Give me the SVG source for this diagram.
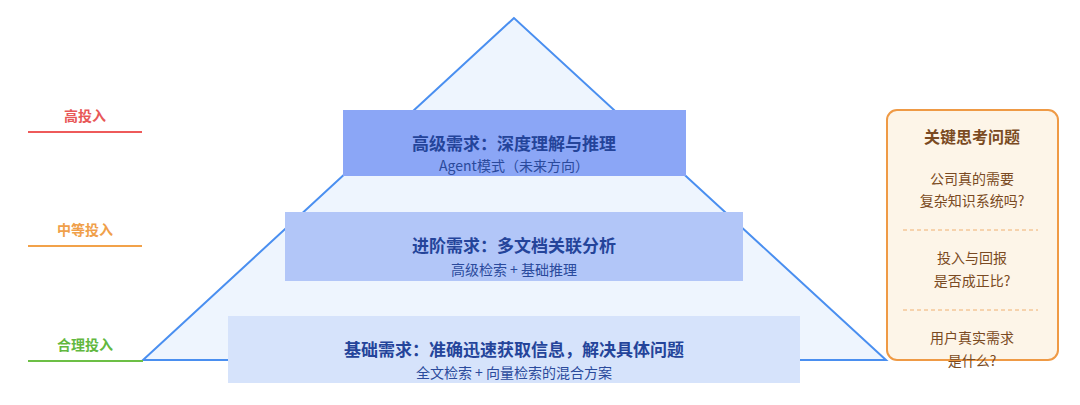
<svg xmlns="http://www.w3.org/2000/svg" width="1080" height="405" viewBox="0 0 1080 405">
<style>
text{font-family:"Noto Sans CJK SC","Noto Sans",sans-serif;text-anchor:middle}
.t{font-size:17px;font-weight:bold;fill:#24449a}
.s{font-size:14px;fill:#2a4a9c}
.l{font-size:14px;font-weight:bold}
.q{font-size:14px;fill:#7a4a22}
</style>
<rect width="1080" height="405" fill="#fff"/>
<g id="pyramid"><polygon points="514,18 143,360 886,360" fill="#eef5fe" stroke="#4a8ff0" stroke-width="2"/></g>
<g id="levels">
<line x1="28" y1="132" x2="142" y2="132" stroke="#ee5a5a" stroke-width="2"/>
<text class="l" x="85" y="121" fill="#e85858">高投入</text>
<line x1="28" y1="246" x2="142" y2="246" stroke="#f2a24a" stroke-width="2"/>
<text class="l" x="85" y="235" fill="#f0a04a">中等投入</text>
<line x1="28" y1="361" x2="143" y2="361" stroke="#6cbf45" stroke-width="2"/>
<text class="l" x="85" y="350" fill="#62b83f">合理投入</text>
</g>
<g id="top"><rect x="343" y="110" width="343" height="66" fill="#8ba6f6"/>
<text class="t" x="514" y="150">高级需求：深度理解与推理</text>
<text class="s" x="514" y="171">Agent模式（未来方向）</text></g>
<g id="mid"><rect x="285" y="212" width="458" height="69" fill="#b2c6f8"/>
<text class="t" x="514" y="252">进阶需求：多文档关联分析</text>
<text class="s" x="514" y="275">高级检索 + 基础推理</text></g>
<g id="base"><rect x="228" y="316" width="572" height="67" fill="#d6e3fb"/>
<text class="t" x="514" y="356">基础需求：准确迅速获取信息，解决具体问题</text>
<text class="s" x="514" y="378">全文检索 + 向量检索的混合方案</text></g>
<g id="questions">
<rect x="887" y="110" width="171" height="250" rx="10" fill="#fdf5e8" stroke="#ef9a45" stroke-width="2"/>
<text x="972" y="143" font-size="16" font-weight="bold" fill="#7a4a22">关键思考问题</text>
<text class="q" x="972" y="184">公司真的需要</text>
<text class="q" x="972" y="206">复杂知识系统吗?</text>
<line x1="903" y1="230" x2="1038" y2="230" stroke="#f0b070" stroke-dasharray="4,3"/>
<text class="q" x="972" y="263">投入与回报</text>
<text class="q" x="972" y="286">是否成正比?</text>
<line x1="903" y1="310" x2="1038" y2="310" stroke="#f0b070" stroke-dasharray="4,3"/>
<text class="q" x="972" y="343">用户真实需求</text>
<text class="q" x="972" y="366">是什么?</text>
</g>
</svg>
